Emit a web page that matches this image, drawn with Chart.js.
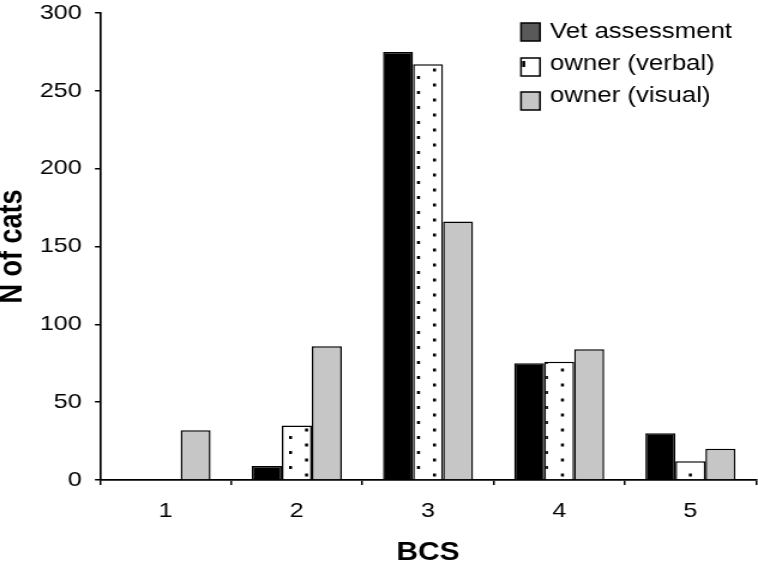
<!DOCTYPE html>
<html>
<head>
<meta charset="utf-8">
<script src="https://cdn.jsdelivr.net/npm/chart.js@4/dist/chart.umd.min.js"></script>
<style>
html,body{margin:0;padding:0;background:#fff;overflow:hidden}
</style>
</head>
<body>
<canvas id="c" width="632" height="567" style="display:block;width:758px;height:567px"></canvas>
<script>
// ---- data ----
const categories = ['1', '2', '3', '4', '5'];
const vetAssessment = [0, 9, 275, 75, 30];
const ownerVerbal = [0, 35, 267, 76, 12];
const ownerVisual = [32, 86, 166, 84, 20];
const seriesNames = ['Vet assessment', 'owner (verbal)', 'owner (visual)'];
const yTickValues = [0, 50, 100, 150, 200, 250, 300];
const xTitle = 'BCS';
const yTitle = 'N of cats';

// ---- styling ----
const K = 758 / 632; // horizontal display stretch of the canvas
const FONT = '"Liberation Sans", Arial, Helvetica, sans-serif';
const canvas = document.getElementById('c');
const ctx = canvas.getContext('2d');

function makeDots() {
  const dx = 16 / K;
  const w = Math.round(dx * 6), h = 15;
  const p = document.createElement('canvas');
  p.width = w; p.height = h;
  const c = p.getContext('2d');
  c.fillStyle = '#fff';
  c.fillRect(0, 0, w, h);
  c.fillStyle = '#000';
  for (let i = 0; i < 6; i++) {
    const y = (i % 2) * 7.5 + 1;
    c.fillRect(i * dx + 1, y, 2.5, 3);
  }
  return ctx.createPattern(p, 'repeat');
}

const fills = ['#000000', makeDots(), '#c6c6c6'];
const legendFills = ['#595959', '#ffffff', '#c6c6c6'];

Chart.defaults.font.family = FONT;
Chart.defaults.color = '#000';

const legendPlugin = {
  id: 'customLegend',
  afterDraw(chart) {
    const c = chart.ctx;
    const bx = 521 / K, bw = 19 / K, bh = 18;
    const tx = 550 / K;
    const boxTops = [23, 58, 92];
    const textYs = [32, 64, 96];
    chart.data.datasets.forEach((ds, i) => {
      c.save();
      c.fillStyle = legendFills[i];
      c.fillRect(bx, boxTops[i], bw, bh);
      if (i === 1) {
        c.fillStyle = '#000';
        c.fillRect(bx + 1, boxTops[i] + 3, 2.5, 6);
      }
      c.lineWidth = 1.5;
      c.strokeStyle = '#000';
      c.strokeRect(bx, boxTops[i], bw, bh);
      c.fillStyle = '#000';
      c.font = '21.5px ' + FONT;
      c.textBaseline = 'middle';
      c.textAlign = 'left';
      c.fillText(ds.label, tx, textYs[i]);
      c.restore();
    });
  }
};

const seriesData = [vetAssessment, ownerVerbal, ownerVisual];

new Chart(canvas, {
  type: 'bar',
  data: {
    labels: categories,
    datasets: seriesData.map((d, i) => ({
      label: seriesNames[i],
      data: d,
      backgroundColor: fills[i],
      borderColor: '#000',
      borderWidth: 1.5,
      barPercentage: 1,
      categoryPercentage: 0.686
    }))
  },
  options: {
    responsive: false,
    animation: false,
    devicePixelRatio: 1,
    layout: { padding: { top: 13, right: 632 - 756 / K, bottom: 0, left: 0 } },
    plugins: {
      legend: { display: false },
      tooltip: { enabled: false }
    },
    scales: {
      x: {
        grid: {
          display: true, drawOnChartArea: false, drawTicks: true,
          tickLength: 5, color: '#000', lineWidth: 1.5, offset: true
        },
        border: { display: true, color: '#000', width: 1.7 },
        ticks: { font: { size: 21 }, color: '#000', padding: 13.5, maxRotation: 0 },
        title: {
          display: true, text: xTitle, color: '#000',
          font: { size: 25, weight: 'bold', lineHeight: 1 },
          padding: { top: 0, bottom: 1 }
        },
        afterFit(scale) { scale.height = 87; scale.paddingLeft = 0; scale.paddingRight = 0; }
      },
      y: {
        min: yTickValues[0],
        max: yTickValues[yTickValues.length - 1],
        afterBuildTicks(scale) { scale.ticks = yTickValues.map(v => ({ value: v })); },
        grid: {
          display: true, drawOnChartArea: false, drawTicks: true,
          tickLength: 4.2, color: '#000', lineWidth: 1.5
        },
        border: { display: true, color: '#000', width: 1.7 },
        ticks: { font: { size: 21 }, color: '#000', padding: 11 },
        title: {
          display: true, text: yTitle, color: '#000',
          font: { size: 27, weight: 'bold', lineHeight: 1 },
          padding: { top: -3, bottom: 0 }
        },
        afterFit(scale) { scale.width = 100 / K; scale.paddingTop = 0; scale.paddingBottom = 0; }
      }
    }
  },
  plugins: [legendPlugin]
});
</script>
</body>
</html>
